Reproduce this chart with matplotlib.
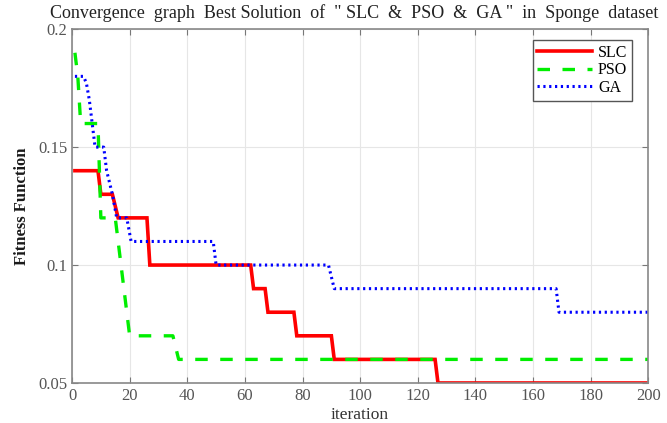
import matplotlib
matplotlib.use("Agg")
import matplotlib.pyplot as plt

plt.rcParams['font.family'] = ['Liberation Serif', 'DejaVu Serif']
plt.rcParams['lines.scale_dashes'] = False

# Data (iteration, fitness)
slc_x = [1, 9, 10, 14, 16, 26, 27, 62, 63, 67, 68, 77, 78, 90, 91, 126, 127, 200]
slc_y = [0.14, 0.14, 0.13, 0.13, 0.12, 0.12, 0.10, 0.10, 0.09, 0.09, 0.08, 0.08,
         0.07, 0.07, 0.06, 0.06, 0.05, 0.05]

pso_x = [1, 2, 3, 9, 10, 15, 20, 35, 37, 200]
pso_y = [0.19, 0.18, 0.16, 0.16, 0.12, 0.12, 0.07, 0.07, 0.06, 0.06]

ga_x = [1, 4, 5, 6, 7, 8, 11, 12, 13, 14, 15.5, 19, 20.5, 49, 50, 89, 91, 168, 169, 200]
ga_y = [0.18, 0.18, 0.177, 0.17, 0.16, 0.15, 0.15, 0.14, 0.135, 0.13, 0.12, 0.12,
        0.11, 0.11, 0.10, 0.10, 0.09, 0.09, 0.08, 0.08]

xticks = [0, 20, 40, 60, 80, 100, 120, 140, 160, 180, 200]
yticks = [0.05, 0.1, 0.15, 0.2]
ytick_labels = ['0.05', '0.1', '0.15', '0.2']

fig = plt.figure(figsize=(6.67, 4.23), dpi=100)
ax = fig.add_axes([0.108, 0.0946, 0.864, 0.8364])

ax.plot(slc_x, slc_y, color='#ff0000', lw=2.6, label='SLC', solid_joinstyle='miter')
ax.plot(pso_x, pso_y, color='#00ee00', lw=2.4, dashes=(9, 9), label='PSO')
ax.plot(ga_x, ga_y, color='#0000ff', lw=2.2, dashes=(1.6, 2.6), label='GA')

ax.set_xlim(0, 200)
ax.set_ylim(0.05, 0.2)
ax.set_xticks(xticks)
ax.set_yticks(yticks)
ax.set_yticklabels(ytick_labels)
ax.grid(True, color='#e6e6e6', lw=0.8)
ax.tick_params(direction='in', top=True, right=True, labelsize=12,
               labelcolor='#555555', color='#777777', length=4)
for s in ax.spines.values():
    s.set_color('#888888')
    s.set_linewidth(1.2)

ax.set_xlabel('iteration', fontsize=12.5, color='#333333', labelpad=2)
ax.set_ylabel('Fitness Function', fontsize=12, color='#1a1a1a', fontweight='bold', labelpad=6)
ax.set_title('Convergence  graph  Best Solution  of  " SLC  &  PSO  &  GA "  in  Sponge  dataset',
             fontsize=13, color='#222222', pad=8, x=0.49)

leg = ax.legend(loc='upper right', bbox_to_anchor=(0.972, 0.97), borderaxespad=0,
                fontsize=11.5, handlelength=3.4, fancybox=False, framealpha=1,
                edgecolor='#555555', borderpad=0.3, labelspacing=0.1, handletextpad=0.4)
leg.get_frame().set_linewidth(1.0)

fig.savefig('out.png', dpi=100)
